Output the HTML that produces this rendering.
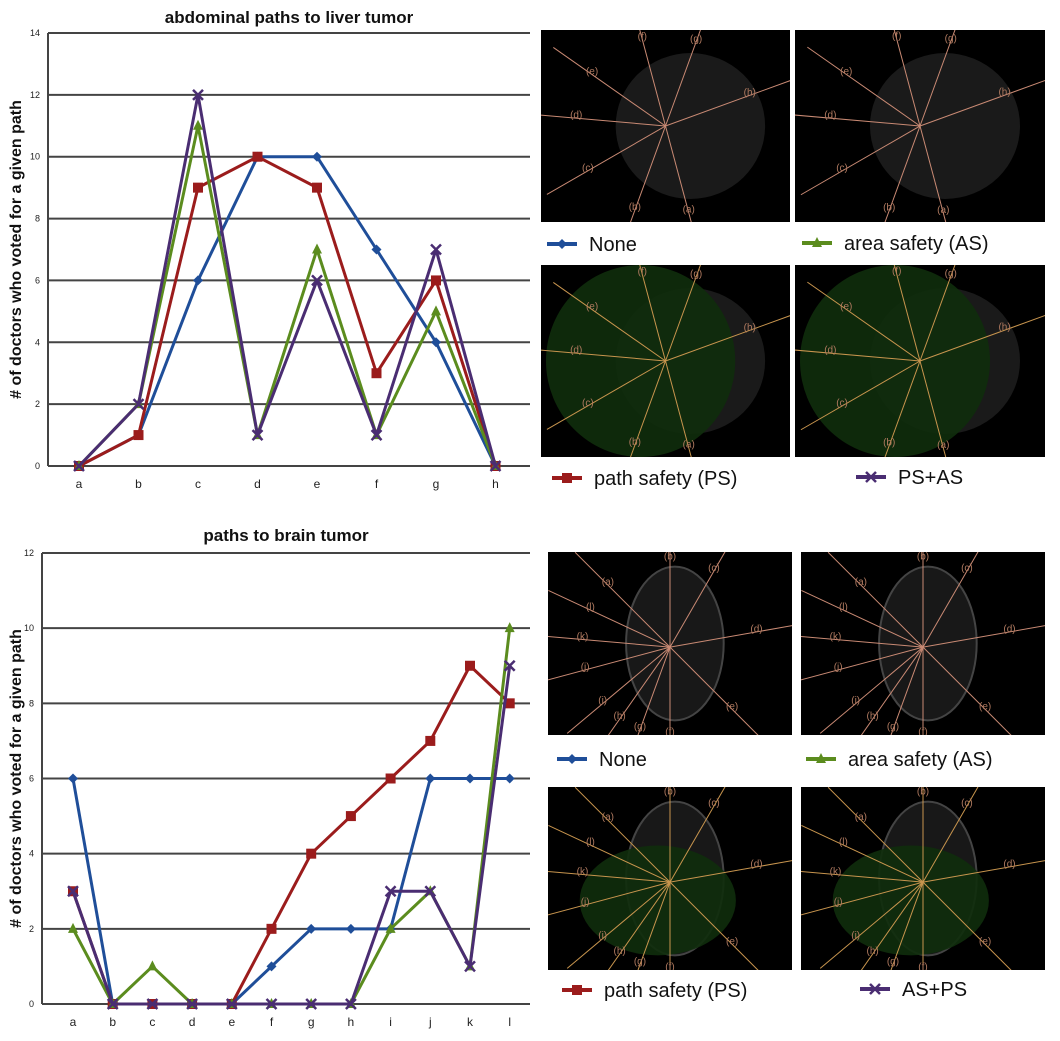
<!DOCTYPE html>
<html><head><meta charset="utf-8"><style>
body{margin:0;background:#fff;width:1060px;height:1041px;overflow:hidden;font-family:"Liberation Sans",sans-serif}
svg{position:absolute;left:0;top:0}
</style></head><body>
<svg id="s" width="1060" height="1041"></svg>
<script>
const topCats=['a','b','c','d','e','f','g','h'];
const topNone=[0,1,6,10,10,7,4,0];
const topPS=[0,1,9,10,9,3,6,0];
const topAS=[0,2,11,1,7,1,5,0];
const topPSAS=[0,2,12,1,6,1,7,0];
const topTicks=[0,2,4,6,8,10,12,14];
const botCats=['a','b','c','d','e','f','g','h','i','j','k','l'];
const botNone=[6,0,0,0,0,1,2,2,2,6,6,6];
const botPS=[3,0,0,0,0,2,4,5,6,7,9,8];
const botAS=[2,0,1,0,0,0,0,0,2,3,1,10];
const botASPS=[3,0,0,0,0,0,0,0,3,3,1,9];
const botTicks=[0,2,4,6,8,10,12];
const C={none:'#1f4e99',ps:'#9b1c1c',as:'#5b8c1e',pa:'#4a2d72'};
const NS='http://www.w3.org/2000/svg';
const S=document.getElementById('s');
const defs=document.createElementNS(NS,'defs');S.appendChild(defs);
function el(t,a,p){const e=document.createElementNS(NS,t);for(const k in a)e.setAttribute(k,a[k]);(p||S).appendChild(e);return e;}
function txt(x,y,s,a,p){const e=el('text',Object.assign({x:x,y:y},a),p);e.textContent=s;return e;}
function marker(g,type,x,y,c){
 let m;
 if(type==='d'){m=el('polygon',{points:`${x},${y-5} ${x+5},${y} ${x},${y+5} ${x-5},${y}`,fill:c},g);}
 else if(type==='s'){m=el('rect',{x:x-5,y:y-5,width:10,height:10,fill:c},g);}
 else if(type==='t'){m=el('polygon',{points:`${x},${y-6} ${x+5},${y+4} ${x-5},${y+4}`,fill:c},g);}
 else {m=el('path',{d:`M${x-5},${y-5}L${x+5},${y+5}M${x-5},${y+5}L${x+5},${y-5}`,stroke:c,'stroke-width':2.5},g);}
 
 
}
function chart(o){
 const g=el('g',{});
 
 
 const yS=v=>o.y0-(v/o.max)*(o.y0-o.y1);
 const xS=i=>o.xa+i*o.dx;
 o.ticks.forEach(t=>{
  const gl=el('line',{x1:o.left,x2:o.right,y1:yS(t),y2:yS(t),stroke:'#444','stroke-width':2},g);
  
  
  const tl=txt(o.left-8,yS(t)+3,String(t),{'font-size':9,'text-anchor':'end',fill:'#222'},g);
  
  
 });
 const ax=el('line',{x1:o.left,x2:o.left,y1:o.y1,y2:o.y0,stroke:'#444','stroke-width':2},g);
 
 
 o.cats.forEach((c,i)=>{
  const xl=txt(xS(i),o.y0+22,c,{'font-size':12,'text-anchor':'middle',fill:'#222'},g);
  
  
 });
 o.series.forEach(s=>{
  const pl=el('polyline',{points:s.v.map((v,i)=>xS(i)+','+yS(v)).join(' '),fill:'none',stroke:s.c,'stroke-width':3,'stroke-linejoin':'round'},g);
  
  
  s.v.forEach((v,i)=>marker(g,s.m,xS(i),yS(v),s.c));
 });
 const tt=txt((o.left+o.right)/2,o.ty,o.title,{'font-size':17,'font-weight':'bold','text-anchor':'middle',fill:'#111'},g);
 
 
 const yt=txt(0,0,'# of doctors who voted for a given path',{'font-size':16,'font-weight':'bold','text-anchor':'middle',fill:'#111',transform:`translate(21,${(o.y0+o.y1)/2}) rotate(-90)`},g);
 
 
}
chart({name:'liver-chart',title:'abdominal paths to liver tumor',ty:23,left:48,right:530,y0:466,y1:33,max:14,xa:79,dx:59.5,cats:topCats,ticks:topTicks,
 series:[{v:topNone,c:C.none,m:'d'},{v:topPS,c:C.ps,m:'s'},{v:topAS,c:C.as,m:'t'},{v:topPSAS,c:C.pa,m:'x'}]});
chart({name:'brain-chart',title:'paths to brain tumor',ty:541,left:42,right:530,y0:1004,y1:553,max:12,xa:73,dx:39.7,cats:botCats,ticks:botTicks,
 series:[{v:botNone,c:C.none,m:'d'},{v:botPS,c:C.ps,m:'s'},{v:botAS,c:C.as,m:'t'},{v:botASPS,c:C.pa,m:'x'}]});

let pid=0;
function panel(x,y,w,h,kind,green,name){
 const id='cp'+(pid++);
 const cp=el('clipPath',{id:id},defs);el('rect',{x:x,y:y,width:w,height:h},cp);
 const g=el('g',{'clip-path':`url(#${id})`});
 
 
 el('rect',{x:x,y:y,width:w,height:h,fill:'#000'},g);
 let cx,cy,labels,angles;
 if(kind==='liver'){
  el('ellipse',{cx:x+w*0.6,cy:y+h*0.5,rx:w*0.3,ry:h*0.38,fill:'#1a1a1a'},g);
  if(green)el('ellipse',{cx:x+w*0.4,cy:y+h*0.5,rx:w*0.38,ry:h*0.5,fill:'#0f2e0c',opacity:0.9},g);
  cx=x+w*0.5;cy=y+h*0.5;
  labels=['(a)','(b)','(c)','(d)','(e)','(f)','(g)','(h)'];
  angles=[75,110,150,185,215,255,290,340];
 } else {
  el('ellipse',{cx:x+w*0.52,cy:y+h*0.5,rx:w*0.2,ry:h*0.42,fill:'#181818',stroke:'#444','stroke-width':2},g);
  if(green)el('ellipse',{cx:x+w*0.45,cy:y+h*0.62,rx:w*0.32,ry:h*0.3,fill:'#0f2e0c',opacity:0.9},g);
  cx=x+w*0.5;cy=y+h*0.52;
  labels=['(a)','(b)','(c)','(d)','(e)','(f)','(g)','(h)','(i)','(j)','(k)','(l)'];
  angles=[225,270,300,350,45,90,110,125,140,165,185,205];
 }
 angles.forEach((a,i)=>{
  const r=a*Math.PI/180, L=w*0.55;
  el('line',{x1:cx,y1:cy,x2:cx+Math.cos(r)*L,y2:cy+Math.sin(r)*L,stroke:green?'#c8954e':'#c98a74','stroke-width':1},g);
  const lr=w*0.36;
  txt(cx+Math.cos(r)*lr,cy+Math.sin(r)*lr,labels[i],{'font-size':10,fill:'#b07a60','text-anchor':'middle'},g);
 });
}
function legend(x,y,c,m,label,name){
 const g=el('g',{});
 
 
 el('line',{x1:x,x2:x+30,y1:y,y2:y,stroke:c,'stroke-width':4},g);
 marker(g,m,x+15,y,c);
 txt(x+42,y+7,label,{'font-size':20,fill:'#111'},g);
}
panel(541,30,249,192,'liver',false,'liver-none-image');
panel(795,30,250,192,'liver',false,'liver-as-image');
panel(541,265,249,192,'liver',true,'liver-ps-image');
panel(795,265,250,192,'liver',true,'liver-psas-image');
legend(547,244,C.none,'d','None','legend-none');
legend(802,243,C.as,'t','area safety (AS)','legend-as');
legend(552,478,C.ps,'s','path safety (PS)','legend-ps');
legend(856,477,C.pa,'x','PS+AS','legend-psas');
panel(548,552,244,183,'brain',false,'brain-none-image');
panel(801,552,244,183,'brain',false,'brain-as-image');
panel(548,787,244,183,'brain',true,'brain-ps-image');
panel(801,787,244,183,'brain',true,'brain-asps-image');
legend(557,759,C.none,'d','None','legend-none-2');
legend(806,759,C.as,'t','area safety (AS)','legend-as-2');
legend(562,990,C.ps,'s','path safety (PS)','legend-ps-2');
legend(860,989,C.pa,'x','AS+PS','legend-asps-2');
</script>
</body></html>
